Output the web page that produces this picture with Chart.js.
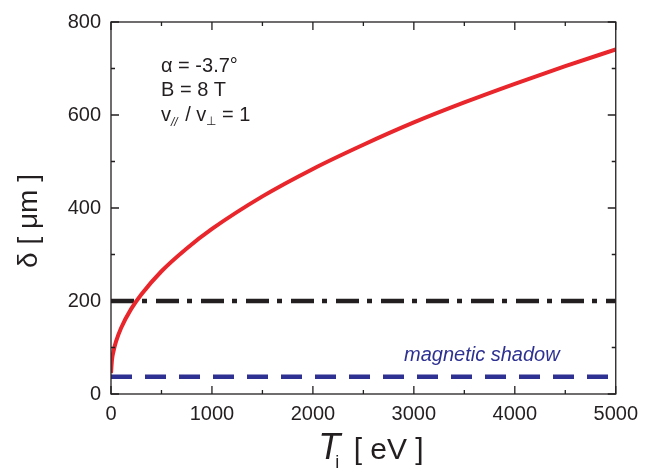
<!DOCTYPE html>
<html>
<head>
<meta charset="utf-8">
<script src="https://cdn.jsdelivr.net/npm/chart.js@4.4.0/dist/chart.umd.min.js"></script>
<style>
  html, body { margin: 0; padding: 0; background: #fff; }
  #wrap { width: 646px; height: 474px; }
</style>
</head>
<body>
<div id="wrap"><canvas id="deltaChart" width="646" height="474"></canvas></div>
<script>
// values
const tiValues = [0, 10, 25, 50, 100, 200, 300, 500, 750, 1000, 1500, 2000, 2500, 3000, 3500, 4000, 4500, 5000];
const deltaValues = [45, 74, 92, 113, 142, 183, 214, 264, 313, 355, 425, 484, 536, 584, 627, 667, 705, 741];
const limitLevel = 200;      // dash-dot line
const shadowLevel = 37;      // magnetic shadow
const xRange = [0, 5000];
const yRange = [0, 800];

const FONT = "'Liberation Sans', Arial, sans-serif";
const RED = '#e8262b';
const BLUE = '#2e3192';
const INK = '#231f20';

const curve = tiValues.map((t, i) => ({ x: t, y: deltaValues[i] }));

// draws a run of text pieces with their own fonts / baseline shifts
function drawRun(ctx, x, y, parts) {
  let cx = x;
  parts.forEach(p => {
    ctx.font = p.font;
    ctx.fillText(p.text, cx, y + (p.dy || 0));
    cx += ctx.measureText(p.text).width + (p.gap || 0);
  });
  return cx;
}
function runWidth(ctx, parts) {
  let w = 0;
  parts.forEach(p => { ctx.font = p.font; w += ctx.measureText(p.text).width + (p.gap || 0); });
  return w;
}

const frameTicks = {
  id: 'frameTicks',
  afterDatasetsDraw(chart) {
    const { ctx, chartArea: a, scales: { x, y } } = chart;
    ctx.save();
    ctx.strokeStyle = INK;
    ctx.lineWidth = 1.3;
    ctx.strokeRect(a.left, a.top, a.right - a.left, a.bottom - a.top);
    ctx.beginPath();
    for (let v = xRange[0]; v <= xRange[1]; v += 500) {
      const px = x.getPixelForValue(v);
      const len = v % 1000 === 0 ? 8 : 4;
      ctx.moveTo(px, a.bottom); ctx.lineTo(px, a.bottom - len);
      ctx.moveTo(px, a.top); ctx.lineTo(px, a.top + len);
    }
    for (let v = yRange[0]; v <= yRange[1]; v += 100) {
      const py = y.getPixelForValue(v);
      const len = v % 200 === 0 ? 8 : 4;
      ctx.moveTo(a.left, py); ctx.lineTo(a.left + len, py);
      ctx.moveTo(a.right, py); ctx.lineTo(a.right - len, py);
    }
    ctx.stroke();
    ctx.restore();
  },
  afterDraw(chart) {
    const { ctx } = chart;
    ctx.save();
    ctx.fillStyle = INK;
    ctx.textBaseline = 'alphabetic';
    ctx.textAlign = 'left';

    // parameters box
    const f = '20px ' + FONT;
    const fs = 'italic 12px ' + FONT;
    drawRun(ctx, 161, 72, [{ text: 'α = -3.7°', font: f }]);
    drawRun(ctx, 161, 96, [{ text: 'B = 8 T', font: f }]);
    drawRun(ctx, 161, 121, [
      { text: 'v', font: f },
      { text: '//', font: fs, dy: 5, gap: 2 },
      { text: ' / v', font: f },
      { text: '⊥', font: '12px ' + FONT, dy: 4 },
      { text: ' = 1', font: f }
    ]);

    // magnetic shadow label
    ctx.fillStyle = BLUE;
    drawRun(ctx, 404, 361, [{ text: 'magnetic shadow', font: 'italic 20px ' + FONT }]);

    // x title
    ctx.fillStyle = INK;
    const xt = [
      { text: 'T', font: 'italic 36px ' + FONT, gap: -5 },
      { text: 'i', font: '18px ' + FONT, dy: 9, gap: 6 },
      { text: ' [ eV ]', font: '30px ' + FONT }
    ];
    drawRun(ctx, 371 - runWidth(ctx, xt) / 2, 459, xt);

    // y title
    ctx.translate(37, 221);
    ctx.rotate(-Math.PI / 2);
    ctx.textAlign = 'center';
    ctx.font = '28px ' + FONT;
    ctx.fillText('δ [ μm ]', 0, 0);
    ctx.restore();
  }
};

new Chart(document.getElementById('deltaChart'), {
  type: 'line',
  data: {
    datasets: [
      {
        label: 'delta',
        data: curve,
        borderColor: RED,
        borderWidth: 4,
        pointRadius: 0,
        cubicInterpolationMode: 'monotone',
        fill: false
      },
      {
        label: 'limit',
        data: [{ x: xRange[0], y: limitLevel }, { x: xRange[1], y: limitLevel }],
        borderColor: INK,
        borderWidth: 4.5,
        borderDash: [23, 8, 5, 9],
        pointRadius: 0,
        fill: false
      },
      {
        label: 'magnetic shadow',
        data: [{ x: xRange[0], y: shadowLevel }, { x: xRange[1], y: shadowLevel }],
        borderColor: BLUE,
        borderWidth: 4.5,
        borderDash: [21, 13],
        pointRadius: 0,
        fill: false
      }
    ]
  },
  options: {
    responsive: false,
    animation: false,
    layout: { padding: { left: 0, top: 16, right: 25, bottom: 0 } },
    plugins: { legend: { display: false }, tooltip: { enabled: false } },
    scales: {
      x: {
        type: 'linear',
        min: xRange[0],
        max: xRange[1],
        grid: { display: false, drawTicks: false },
        border: { display: false },
        ticks: {
          stepSize: 1000, padding: 8, color: INK, maxRotation: 0,
          font: { family: FONT, size: 20 },
          callback: v => String(v)
        },
        afterFit(scale) { scale.height = 80; }
      },
      y: {
        min: yRange[0],
        max: yRange[1],
        grid: { display: false, drawTicks: false },
        border: { display: false },
        ticks: {
          stepSize: 200, padding: 10, color: INK,
          font: { family: FONT, size: 20 },
          callback: v => String(v)
        },
        afterFit(scale) { scale.width = 111; }
      }
    }
  },
  plugins: [frameTicks]
});
</script>
</body>
</html>
